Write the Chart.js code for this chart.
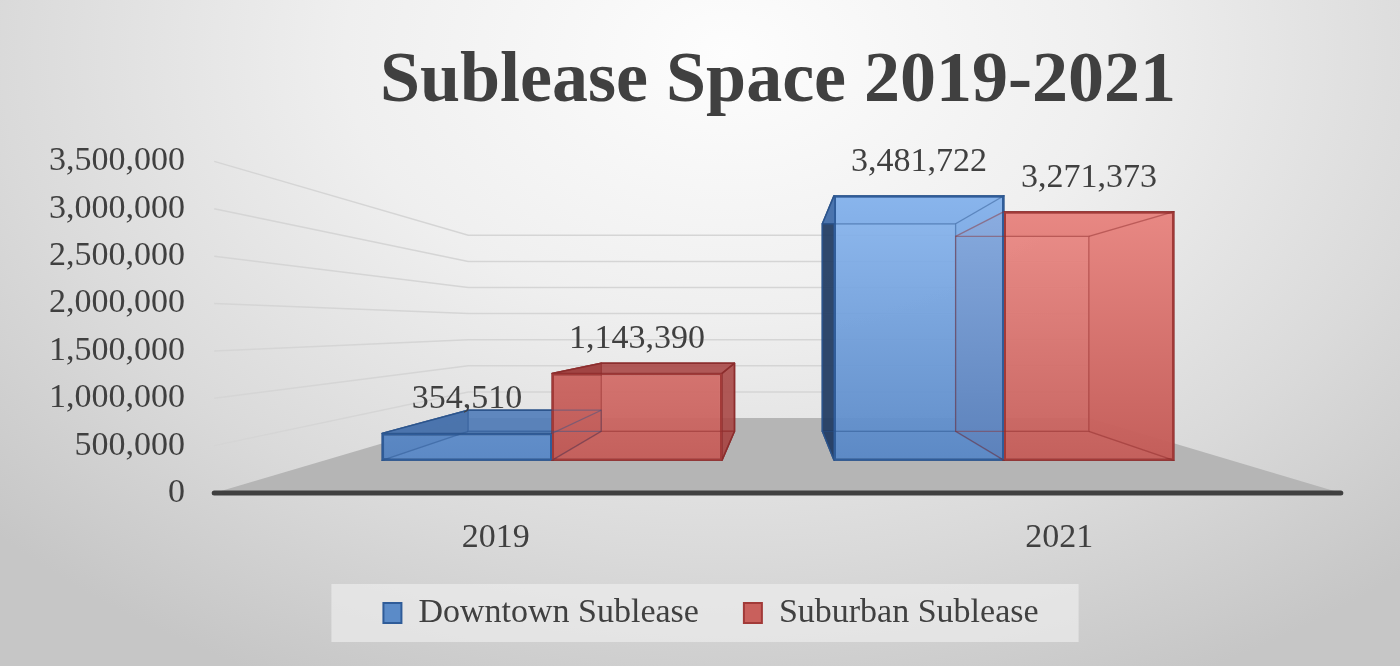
<!DOCTYPE html>
<html>
<head>
<meta charset="utf-8">
<title>Sublease Space 2019-2021</title>
<script src="https://cdn.jsdelivr.net/npm/chart.js@4.4.1/dist/chart.umd.min.js"></script>
<style>
  html, body { margin: 0; padding: 0; }
  body {
    width: 1400px; height: 666px; overflow: hidden;
    background: radial-gradient(ellipse 72% 105% at 52% 8%, #fdfdfd 0%, #efefef 38%, #dadada 72%, #c6c6c6 100%);
  }
  canvas { display: block; }
</style>
</head>
<body>
<canvas id="chart" width="1400" height="666"></canvas>
<script>
// data
const categories = ["2019", "2021"];
const seriesNames = ["Downtown Sublease", "Suburban Sublease"];
const downtown = [354510, 3481722];
const suburban = [1143390, 3271373];
const yMin = 0, yMax = 3500000, yStep = 500000;

const FONT = "'Liberation Serif', 'DejaVu Serif', serif";
const TEXT = '#404040';

// fake 3D view: everything is projected towards a vanishing point
const VP = { x: 780, y: 326 };
const FRONT = 0.8024;   // plane of the bar fronts, relative to the axis plane
const DEPTH = 0.784;    // bar back face / bar front face
const WALL = 0.551;     // back wall
const AREA = { top: 158, bottom: 493 };

// hidden bar axis: same values as the tick axis, seen in the bar front plane
function axisValueAt(py) {
  return (AREA.bottom - py) / (AREA.bottom - AREA.top) * (yMax - yMin) + yMin;
}
const barMin = axisValueAt(VP.y + (AREA.bottom - VP.y) / FRONT);
const barMax = axisValueAt(VP.y + (AREA.top - VP.y) / FRONT);

const toAxisX = x => VP.x + (x - VP.x) / FRONT;
const proj = (x, y, d) => [VP.x + d * (x - VP.x), VP.y + d * (y - VP.y)];

const FACES = [
  { back: 'rgba(79,129,189,0.35)', bottom: 'rgba(70,115,175,0.55)', left: 'rgba(32,58,95,0.9)',
    right: 'rgba(66,108,165,0.75)', top: 'rgba(80,125,185,0.85)', edge: 'rgba(44,84,140,0.9)' },
  { back: 'rgba(192,80,77,0.35)', bottom: 'rgba(180,80,78,0.55)', left: 'rgba(110,36,36,0.9)',
    right: 'rgba(165,66,64,0.8)', top: 'rgba(168,72,70,0.85)', edge: 'rgba(140,45,45,0.9)' }
];

function frontFill(top, bottom) {
  return c => {
    const ca = c.chart.chartArea;
    if (!ca) return bottom;
    const g = c.chart.ctx.createLinearGradient(0, ca.top, 0, ca.bottom);
    g.addColorStop(0, top);
    g.addColorStop(1, bottom);
    return g;
  };
}

function poly(ctx, pts, fill, stroke) {
  ctx.beginPath();
  ctx.moveTo(pts[0][0], pts[0][1]);
  for (let i = 1; i < pts.length; i++) ctx.lineTo(pts[i][0], pts[i][1]);
  ctx.closePath();
  if (fill) { ctx.fillStyle = fill; ctx.fill(); }
  if (stroke) { ctx.strokeStyle = stroke; ctx.stroke(); }
}

function boxCorners(bar) {
  const { x, y, base, width } = bar.getProps(['x', 'y', 'base', 'width'], true);
  const f = { lt: [x - width / 2, y], rt: [x + width / 2, y], rb: [x + width / 2, base], lb: [x - width / 2, base] };
  const b = {};
  for (const k in f) b[k] = [VP.x + DEPTH * (f[k][0] - VP.x), VP.y + DEPTH * (f[k][1] - VP.y)];
  return { f, b };
}

const scene3d = {
  id: 'scene3d',
  beforeDatasetsDraw(chart) {
    const { ctx, chartArea: ca, scales: { y } } = chart;
    const xl = toAxisX(ca.left), xr = toAxisX(ca.right);
    const y0 = y.getPixelForValue(0);
    ctx.save();
    // floor
    poly(ctx, [[xl, y0], proj(xl, y0, WALL), proj(xr, y0, WALL), [xr, y0]], '#b5b5b5');
    // side and back wall gridlines
    ctx.lineWidth = 1.5;
    ctx.strokeStyle = '#d5d5d5';
    y.ticks.forEach(t => {
      if (t.value === 0) return;
      const py = y.getPixelForValue(t.value);
      const a = proj(xl, py, WALL), b = proj(xr, py, WALL);
      ctx.beginPath();
      ctx.moveTo(xl, py); ctx.lineTo(a[0], a[1]); ctx.lineTo(b[0], b[1]);
      ctx.stroke();
    });
    // front axis line
    ctx.strokeStyle = '#404040';
    ctx.lineWidth = 5;
    ctx.lineCap = 'round';
    ctx.beginPath(); ctx.moveTo(xl, y0); ctx.lineTo(xr, y0); ctx.stroke();
    // box sides behind the bar fronts
    ctx.lineWidth = 1.5;
    ctx.lineJoin = 'round';
    chart.data.datasets.forEach((ds, i) => {
      const c = FACES[i];
      chart.getDatasetMeta(i).data.forEach(bar => {
        const { f, b } = boxCorners(bar);
        poly(ctx, [b.lt, b.rt, b.rb, b.lb], c.back, c.edge);
        poly(ctx, [f.lb, f.rb, b.rb, b.lb], c.bottom, c.edge);
        poly(ctx, [f.lt, b.lt, b.lb, f.lb], c.left, c.edge);
        poly(ctx, [f.rt, b.rt, b.rb, f.rb], c.right, c.edge);
        poly(ctx, [f.lt, f.rt, b.rt, b.lt], c.top, c.edge);
      });
    });
    ctx.restore();
  },
  afterDatasetsDraw(chart) {
    const { ctx, scales: { x, y } } = chart;
    ctx.save();
    // back edges seen through the fronts
    ctx.lineWidth = 1.2;
    chart.data.datasets.forEach((ds, i) => {
      ctx.strokeStyle = FACES[i].edge.replace('0.9)', '0.45)');
      chart.getDatasetMeta(i).data.forEach(bar => {
        const { f, b } = boxCorners(bar);
        poly(ctx, [b.lt, b.rt, b.rb, b.lb], null, ctx.strokeStyle);
        ['lt', 'rt', 'rb', 'lb'].forEach(k => {
          ctx.beginPath(); ctx.moveTo(f[k][0], f[k][1]); ctx.lineTo(b[k][0], b[k][1]); ctx.stroke();
        });
      });
    });
    // value labels
    ctx.fillStyle = TEXT;
    ctx.font = '34px ' + FONT;
    ctx.textAlign = 'center';
    ctx.textBaseline = 'middle';
    chart.data.datasets.forEach((ds, i) => {
      chart.getDatasetMeta(i).data.forEach((bar, j) => {
        ctx.fillText(ds.data[j].toLocaleString('en-US'), bar.x, bar.y - 34);
      });
    });
    // category labels, on the front edge of the floor
    const y0 = y.getPixelForValue(0);
    categories.forEach((c, i) => {
      ctx.fillText(c, toAxisX(x.getPixelForValue(i)), y0 + 45);
    });
    ctx.restore();
  },
  afterDraw(chart) {
    // legend panel, painted underneath what is already there
    const hb = chart.legend.legendHitBoxes;
    if (!hb || !hb.length) return;
    const last = hb[hb.length - 1];
    const cy = hb[0].top + hb[0].height / 2;
    const ctx = chart.ctx;
    ctx.save();
    ctx.globalCompositeOperation = 'destination-over';
    ctx.fillStyle = 'rgba(236,236,236,0.7)';
    ctx.fillRect(hb[0].left - 52, cy - 29, last.left + last.width + 40 - (hb[0].left - 52), 58);
    ctx.restore();
  }
};

new Chart(document.getElementById('chart'), {
  type: 'bar',
  data: {
    labels: categories,
    datasets: [
      {
        label: seriesNames[0], data: downtown, yAxisID: 'y2',
        backgroundColor: frontFill('rgba(146,190,245,0.92)', 'rgba(84,131,194,0.92)'),
        borderColor: '#2f5c99', borderWidth: 2, borderSkipped: false,
        barPercentage: 1, categoryPercentage: 0.752
      },
      {
        label: seriesNames[1], data: suburban, yAxisID: 'y2',
        backgroundColor: frontFill('rgba(244,148,143,0.92)', 'rgba(192,88,84,0.92)'),
        borderColor: '#a23a38', borderWidth: 2, borderSkipped: false,
        barPercentage: 1, categoryPercentage: 0.752
      }
    ]
  },
  options: {
    responsive: false,
    devicePixelRatio: 1,
    animation: false,
    layout: { padding: { left: 22, right: 0, top: 0, bottom: 26 } },
    scales: {
      x: {
        grid: { display: false, drawTicks: false },
        border: { display: false },
        ticks: { display: false },
        afterFit: s => { s.height = 58; }
      },
      y: {
        position: 'left', min: yMin, max: yMax,
        grid: { display: false, drawTicks: false },
        border: { display: false },
        ticks: {
          stepSize: yStep, padding: 141, color: TEXT,
          font: { family: FONT, size: 34 },
          callback: v => Number(v).toLocaleString('en-US')
        },
        afterFit: s => { s.width = 304; }
      },
      y2: {
        position: 'right', min: barMin, max: barMax,
        grid: { display: false, drawTicks: false },
        border: { display: false },
        ticks: { display: false },
        afterFit: s => { s.width = 170; }
      }
    },
    plugins: {
      title: {
        display: true, text: 'Sublease Space 2019-2021', fullSize: false,
        color: TEXT, font: { family: FONT, size: 72, weight: 'bold' },
        padding: { top: 36, bottom: 36 }
      },
      legend: {
        position: 'bottom',
        labels: {
          boxWidth: 18, boxHeight: 20, padding: 45, color: TEXT,
          font: { family: FONT, size: 34 },
          generateLabels: chart => Chart.defaults.plugins.legend.labels.generateLabels(chart).map((l, i) => {
            l.fillStyle = i === 0 ? '#5b8bc8' : '#c9605c';
            l.strokeStyle = i === 0 ? '#2f5c99' : '#a23a38';
            l.lineWidth = 2;
            return l;
          })
        }
      },
      tooltip: { enabled: false }
    }
  },
  plugins: [scene3d]
});
</script>
</body>
</html>
